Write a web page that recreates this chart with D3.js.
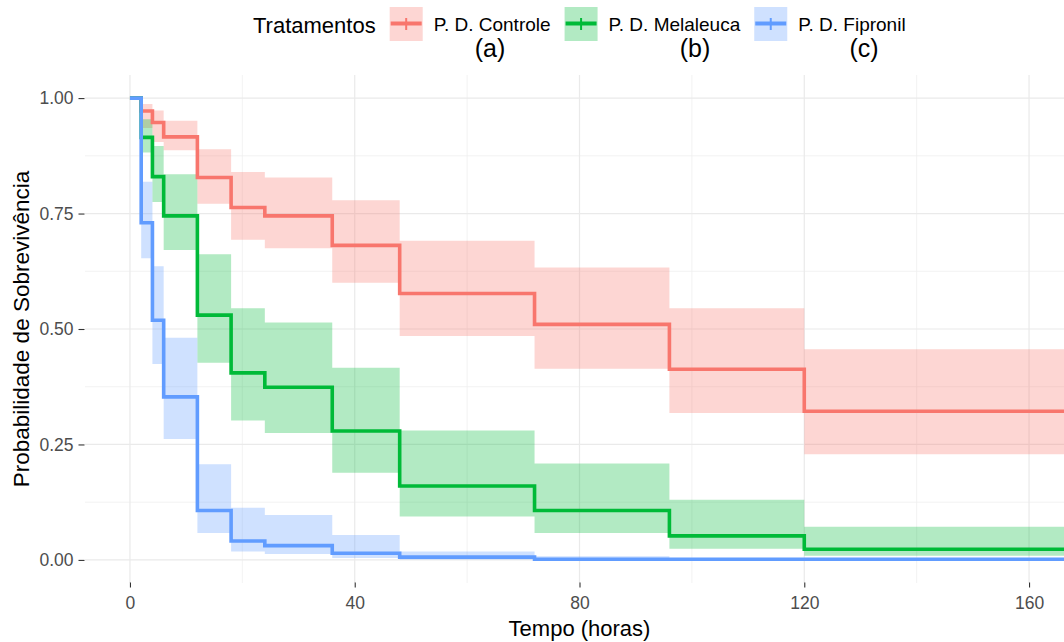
<!DOCTYPE html>
<html>
<head>
<meta charset="utf-8">
<script src="https://cdn.jsdelivr.net/npm/d3@7"></script>
<style>
  body { margin: 0; background: #ffffff; }
  text { font-family: "Liberation Sans", Arial, sans-serif; }
</style>
</head>
<body>
<script>
// Kaplan-Meier estimates (step after each time)
var times = [0, 2, 4, 6, 12, 18, 24, 36, 48, 72, 96, 120, 168];

var controleSurv  = [1, 0.972, 0.947, 0.916, 0.828, 0.763, 0.745, 0.681, 0.577, 0.510, 0.413, 0.322, 0.322];
var controleUpper = [1, 0.987, 0.973, 0.951, 0.889, 0.840, 0.828, 0.779, 0.691, 0.633, 0.545, 0.456, 0.456];
var controleLower = [1, 0.935, 0.905, 0.887, 0.771, 0.693, 0.675, 0.600, 0.485, 0.414, 0.318, 0.229, 0.229];

var melaleucaSurv  = [1, 0.915, 0.830, 0.745, 0.530, 0.405, 0.374, 0.279, 0.160, 0.107, 0.052, 0.023, 0.023];
var melaleucaUpper = [1, 0.954, 0.896, 0.835, 0.662, 0.545, 0.514, 0.416, 0.280, 0.209, 0.130, 0.072, 0.072];
var melaleucaLower = [1, 0.882, 0.775, 0.671, 0.427, 0.302, 0.275, 0.189, 0.094, 0.058, 0.024, 0.009, 0.009];

var fipronilSurv  = [1, 0.730, 0.519, 0.353, 0.107, 0.041, 0.031, 0.0145, 0.006, 0.0015, 0.0015, 0.0015, 0.0015];
var fipronilUpper = [1, 0.819, 0.636, 0.481, 0.207, 0.113, 0.097, 0.054, 0.018, 0.008, 0.004, 0.004, 0.004];
var fipronilLower = [1, 0.653, 0.424, 0.262, 0.058, 0.018, 0.013, 0.004, 0.001, 0, 0, 0, 0];

var groups = ["P. D. Controle", "P. D. Melaleuca", "P. D. Fipronil"];
var colors = ["#F8766D", "#00BA38", "#619CFF"];
var survs  = [controleSurv, melaleucaSurv, fipronilSurv];
var uppers = [controleUpper, melaleucaUpper, fipronilUpper];
var lowers = [controleLower, melaleucaLower, fipronilLower];

var xTicks = [0, 40, 80, 120, 160];
var xMinor = [20, 60, 100, 140];
var yTicks = [0, 0.25, 0.5, 0.75, 1];
var yMinor = [0.125, 0.375, 0.625, 0.875];
var annotations = ["(a)", "(b)", "(c)"];

var width = 1064, height = 642;
var panelLeft = 85, panelRight = 1074, panelTop = 75, panelBottom = 583;

var x = d3.scaleLinear().domain([-8, 168]).range([panelLeft, panelRight]);
var y = d3.scaleLinear().domain([-0.05, 1.05]).range([panelBottom, panelTop]);

var svg = d3.select("body").append("svg")
  .attr("width", width).attr("height", height);

svg.append("clipPath").attr("id", "panel")
  .append("rect").attr("x", panelLeft).attr("y", panelTop)
  .attr("width", panelRight - panelLeft).attr("height", panelBottom - panelTop);

// grid
var grid = svg.append("g");
grid.selectAll(".xminor").data(xMinor).enter().append("line")
  .attr("x1", d => x(d)).attr("x2", d => x(d)).attr("y1", panelTop).attr("y2", panelBottom)
  .attr("stroke", "#EFEFEF").attr("stroke-width", 0.8);
grid.selectAll(".yminor").data(yMinor).enter().append("line")
  .attr("y1", d => y(d)).attr("y2", d => y(d)).attr("x1", panelLeft).attr("x2", panelRight)
  .attr("stroke", "#EFEFEF").attr("stroke-width", 0.8);
grid.selectAll(".xmajor").data(xTicks).enter().append("line")
  .attr("x1", d => x(d)).attr("x2", d => x(d)).attr("y1", panelTop).attr("y2", panelBottom)
  .attr("stroke", "#EAEAEA").attr("stroke-width", 1.2);
grid.selectAll(".ymajor").data(yTicks).enter().append("line")
  .attr("y1", d => y(d)).attr("y2", d => y(d)).attr("x1", panelLeft).attr("x2", panelRight)
  .attr("stroke", "#EAEAEA").attr("stroke-width", 1.2);

var plot = svg.append("g").attr("clip-path", "url(#panel)");

var area = d3.area().curve(d3.curveStepAfter)
  .x(d => x(d.t)).y0(d => y(d.lo)).y1(d => y(d.hi));
var line = d3.line().curve(d3.curveStepAfter)
  .x(d => x(d.t)).y(d => y(d.s));

var series = groups.map(function (g, i) {
  return times.map(function (t, j) {
    return { t: t, s: survs[i][j], hi: uppers[i][j], lo: lowers[i][j] };
  });
});

plot.selectAll(".band").data(series).enter().append("path")
  .attr("d", area)
  .attr("fill", (d, i) => colors[i])
  .attr("fill-opacity", 0.3);

plot.selectAll(".curve").data(series).enter().append("path")
  .attr("d", line)
  .attr("fill", "none")
  .attr("stroke", (d, i) => colors[i])
  .attr("stroke-width", 3.6);

// axes
var xAxis = svg.append("g").attr("transform", "translate(0," + (panelBottom - 0.5) + ")")
  .call(d3.axisBottom(x).tickValues(xTicks).tickSize(5).tickPadding(9));
var yAxis = svg.append("g").attr("transform", "translate(" + (panelLeft - 0.5) + ",0)")
  .call(d3.axisLeft(y).tickValues(yTicks).tickFormat(d3.format(".2f")).tickSize(6).tickPadding(5));

[xAxis, yAxis].forEach(function (a) {
  a.select(".domain").remove();
  a.selectAll(".tick line").attr("stroke", "#333333").attr("stroke-width", 1.1);
  a.selectAll(".tick text").attr("fill", "#4D4D4D")
    .style("font-size", "17.5px").style("font-family", "'Liberation Sans', Arial, sans-serif");
});

svg.append("text")
  .attr("x", (panelLeft + panelRight) / 2).attr("y", 636)
  .attr("text-anchor", "middle")
  .style("font-size", "22px")
  .text("Tempo (horas)");

svg.append("text")
  .attr("transform", "translate(29," + (panelTop + panelBottom) / 2 + ") rotate(-90)")
  .attr("text-anchor", "middle")
  .style("font-size", "22.5px")
  .text("Probabilidade de Sobrevivência");

// legend
var legend = svg.append("g");
var title = legend.append("text")
  .attr("x", 253).attr("y", 33)
  .style("font-size", "22px")
  .text("Tratamentos");
var cx = 253 + title.node().getComputedTextLength() + 14;

groups.forEach(function (g, i) {
  var key = legend.append("g").attr("transform", "translate(" + cx + ",7)");
  key.append("rect").attr("width", 33).attr("height", 34)
    .attr("fill", colors[i]).attr("fill-opacity", 0.3);
  key.append("line").attr("x1", 1).attr("x2", 32).attr("y1", 16.5).attr("y2", 16.5)
    .attr("stroke", colors[i]).attr("stroke-width", 4);
  key.append("line").attr("x1", 16.5).attr("x2", 16.5).attr("y1", 11).attr("y2", 23)
    .attr("stroke", colors[i]).attr("stroke-width", 2);
  var lab = legend.append("text")
    .attr("x", cx + 44).attr("y", 31)
    .style("font-size", "19px")
    .text(g);
  cx = cx + 44 + lab.node().getComputedTextLength() + 14;
});

var annX = [490, 695, 864];
svg.selectAll(".ann").data(annotations).enter().append("text")
  .attr("x", (d, i) => annX[i]).attr("y", 57)
  .attr("text-anchor", "middle")
  .style("font-size", "25px")
  .text(d => d);
</script>
</body>
</html>
